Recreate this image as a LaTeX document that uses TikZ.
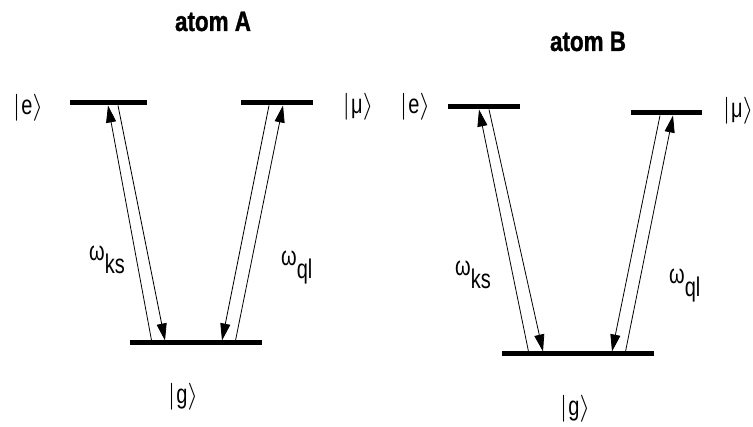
\RequirePackage{fix-cm}
\documentclass[tikz,border=0pt]{standalone}
\usepackage{fontspec}
\setmainfont{Liberation Sans}[FakeStretch=0.74]
\newfontfamily\titlefont{Liberation Sans}[FakeStretch=0.8,BoldFeatures={FakeBold=1.2}]
\usetikzlibrary{arrows.meta}
\tikzset{
  lvl/.style={line width=5pt},
  trans/.style={line width=0.8pt,-{Triangle[length=17pt,width=10pt]}},
  lbl/.style={inner sep=0pt, anchor=base, font=\fontsize{27}{30}\selectfont},
  omg/.style={inner sep=0pt, anchor=base west, font=\fontsize{27}{30}\selectfont},
  ttl/.style={inner sep=0pt, anchor=base, font=\titlefont\bfseries\fontsize{28}{30}\selectfont},
}
\newcommand{\myket}[1]{$|$\kern1pt#1$\rangle$}
\newcommand{\myomega}[1]{ω\raisebox{-13pt}{#1}}
\begin{document}
\begin{tikzpicture}[x=1pt,y=-1pt]
\useasboundingbox (0,0) rectangle (753,427);
% ---------- atom A ----------
\node[ttl] (titleA) at (213,31) {atom A};
\coordinate (eA1) at (70,103);  \coordinate (eA2) at (147,103);
\coordinate (muA1) at (241,103); \coordinate (muA2) at (313,103);
\coordinate (gA1) at (130,343); \coordinate (gA2) at (262,343);
\draw[lvl] (eA1) -- (eA2);
\draw[lvl] (muA1) -- (muA2);
\draw[lvl] (gA1) -- (gA2);
\coordinate (a1s) at (152,343); \coordinate (a1e) at (108,105.5);
\coordinate (a2s) at (118,105.5); \coordinate (a2e) at (165,340.5);
\coordinate (a3s) at (235,343); \coordinate (a3e) at (283,105.5);
\coordinate (a4s) at (269,105.5); \coordinate (a4e) at (222,340.5);
\draw[trans] (a1s) -- (a1e);
\draw[trans] (a2s) -- (a2e);
\draw[trans] (a3s) -- (a3e);
\draw[trans] (a4s) -- (a4e);
\node[lbl] (keA) at (28,115) {\myket{e}};
\node[lbl] (kmA) at (358,114) {\myket{μ}};
\node[lbl] (kgA) at (183,404) {\myket{g}};
\node[omg] (wksA) at (89,261) {\myomega{ks}};
\node[omg] (wqlA) at (281,266) {\myomega{ql}};
% ---------- atom B ----------
\node[ttl] (titleB) at (588,51) {atom B};
\coordinate (eB1) at (448,107);  \coordinate (eB2) at (520,107);
\coordinate (muB1) at (631,113); \coordinate (muB2) at (702,113);
\coordinate (gB1) at (502,354); \coordinate (gB2) at (654,354);
\draw[lvl] (eB1) -- (eB2);
\draw[lvl] (muB1) -- (muB2);
\draw[lvl] (gB1) -- (gB2);
\coordinate (b1s) at (529,354); \coordinate (b1e) at (479,109.5);
\coordinate (b2s) at (489,109.5); \coordinate (b2e) at (543,351.5);
\coordinate (b3s) at (625,354); \coordinate (b3e) at (673,115.5);
\coordinate (b4s) at (660,115.5); \coordinate (b4e) at (612,351.5);
\draw[trans] (b1s) -- (b1e);
\draw[trans] (b2s) -- (b2e);
\draw[trans] (b3s) -- (b3e);
\draw[trans] (b4s) -- (b4e);
\node[lbl] (keB) at (415,114) {\myket{e}};
\node[lbl] (kmB) at (738,118) {\myket{μ}};
\node[lbl] (kgB) at (575,416) {\myket{g}};
\node[omg] (wksB) at (455,276) {\myomega{ks}};
\node[omg] (wqlB) at (669,284) {\myomega{ql}};
\end{tikzpicture}
\end{document}
